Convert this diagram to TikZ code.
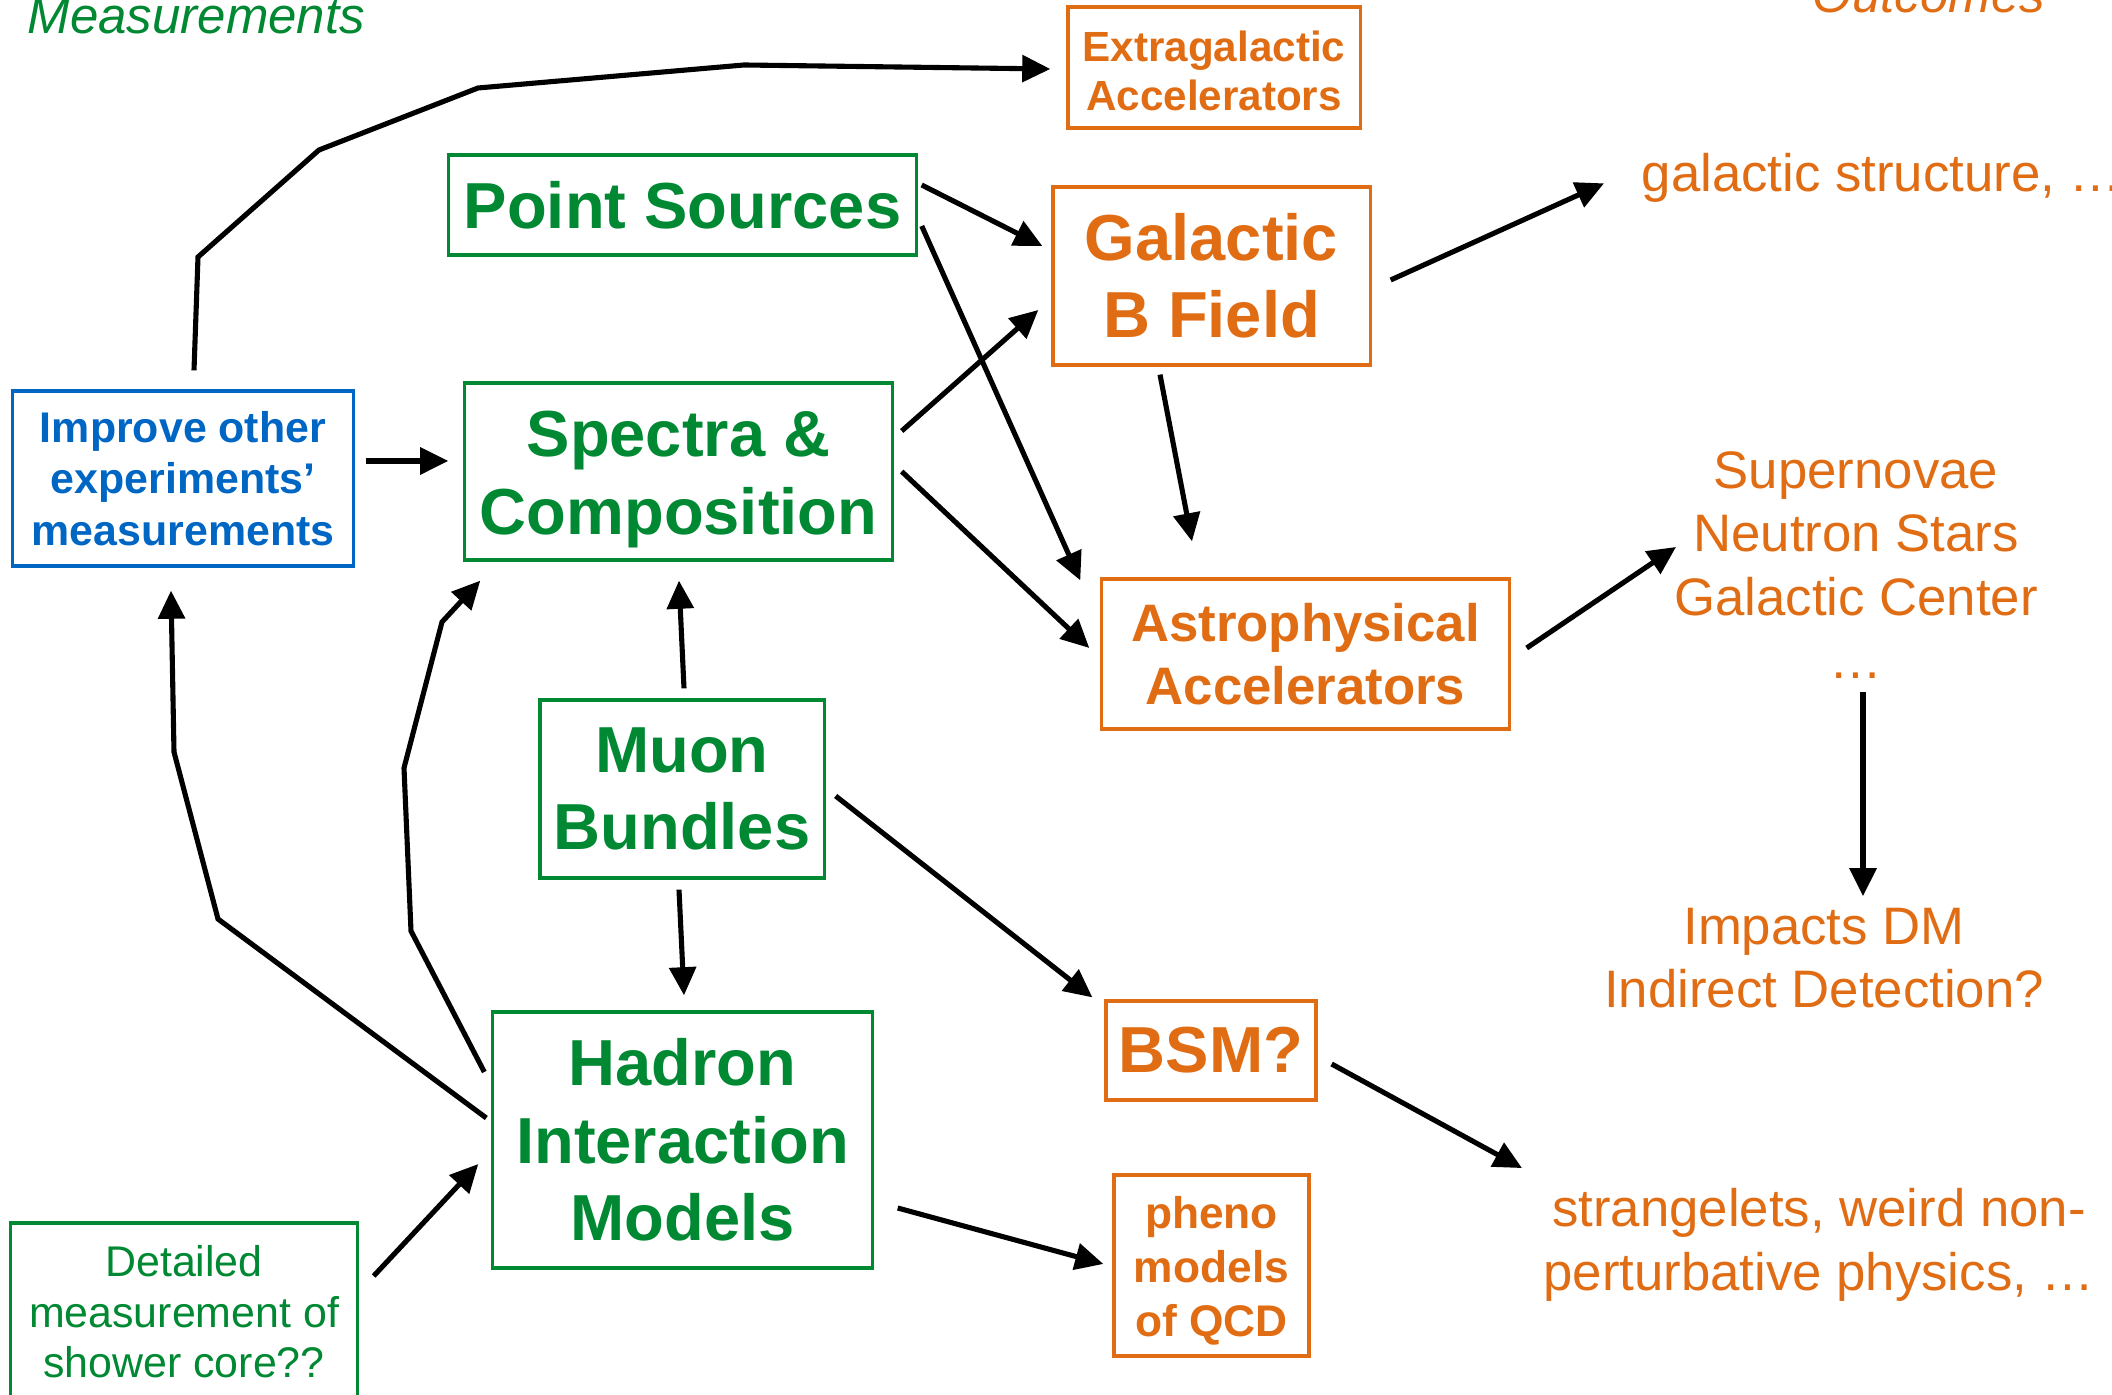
\documentclass[tikz,border=0pt]{standalone}
\usepackage{fontspec}
\setmainfont{Liberation Sans}
\usetikzlibrary{arrows.meta}
\definecolor{grn}{RGB}{0,136,50}
\definecolor{org}{RGB}{224,108,20}
\definecolor{blu}{RGB}{0,102,196}
\tikzset{
  box/.style={draw, line width=0.9pt, align=center, inner sep=0pt},
  big/.style={font=\bfseries\fontsize{18.5}{22}\selectfont},
  mid/.style={font=\bfseries\fontsize{15}{18}\selectfont},
  small/.style={font=\bfseries\fontsize{12.2}{14.7}\selectfont},
  outc/.style={text=org, align=center, inner sep=0pt, font=\fontsize{15}{18}\selectfont},
  head/.style={anchor=base west, inner sep=0pt, font=\itshape\fontsize{14.5}{17}\selectfont},
  arr/.style={-{Triangle[length=8pt,width=7.5pt]}, line width=1.45pt},
}
\begin{document}
\begin{tikzpicture}[x=0.01cm,y=-0.01cm]
\useasboundingbox (0,0) rectangle (2112,1395);
% column heads
\node[head, text=grn] (meas) at (27,34) {Measurements};
\node[head, text=org] (outc) at (1812,13) {Outcomes};
% measurements
\node[box, grn, big, minimum width=4.67cm, minimum height=1cm] (point) at (682.5,205) {Point Sources};
\node[box, grn, big, minimum width=4.27cm, minimum height=1.77cm] (spectra) at (678.5,471.5) {\rule{0pt}{17.5pt}Spectra \&\\Composition};
\node[box, grn, big, minimum width=2.84cm, minimum height=1.78cm] (muon) at (682,789) {Muon\\Bundles};
\node[box, grn, big, minimum width=3.79cm, minimum height=2.56cm] (hadron) at (682.5,1140) {Hadron\\Interaction\\Models};
\node[box, blu, small, minimum width=3.4cm, minimum height=1.75cm] (improve) at (183,478.5) {Improve other\\experiments'\\measurements};
\node[box, grn, font=\fontsize{12.2}{14.4}\selectfont, minimum width=3.46cm, minimum height=1.78cm] (detail) at (184,1312) {Detailed\\measurement of\\shower core??};
% astrophysics / particle physics
\node[box, org, font=\bfseries\fontsize{12}{13.8}\selectfont, minimum width=2.92cm, minimum height=1.21cm] (extra) at (1214,67.5) {\rule{0pt}{10.5pt}Extragalactic\\Accelerators};
\node[box, org, big, minimum width=3.17cm, minimum height=1.78cm] (gal) at (1211.5,276) {Galactic\\B Field};
\node[box, org, mid, minimum width=4.07cm, minimum height=1.5cm] (astro) at (1305.5,654) {Astrophysical\\Accelerators};
\node[box, org, big, minimum width=2.1cm, minimum height=0.99cm] (bsm) at (1211,1050.5) {BSM?};
\node[box, org, font=\bfseries\fontsize{12.6}{15.3}\selectfont, minimum width=1.95cm, minimum height=1.81cm] (pheno) at (1211.5,1265.5) {\rule{0pt}{12pt}pheno\\models\\of QCD};
% outcomes
\node[outc, anchor=base west] (galstr) at (1641,192) {galactic structure, …};
\node[outc] (snova) at (1856,565) {Supernovae\\Neutron Stars\\Galactic Center\\…};
\node[outc] (dmind) at (1824,958) {Impacts DM\\Indirect Detection?};
\node[outc] (strange) at (1819,1245) {strangelets, weird non-\\perturbative physics, …};
% arrows
\draw[arr] ([shift={(11,-19)}]improve.north) -- (198,257) -- (319,150) -- (478,88) -- (744,65) -- ([shift={(-16,1.5)}]extra.west);
\draw[arr] ([shift={(4,-20)}]point.east) -- ([shift={(-9,-30)}]gal.west);
\draw[arr] ([shift={(4,21)}]point.east) -- ([shift={(-20,3)}]astro.north west);
\draw[arr] ([shift={(8,-40.5)}]spectra.east) -- ([shift={(-13,34)}]gal.west);
\draw[arr] ([shift={(8,0)}]spectra.east) -- ([shift={(-11,-6)}]astro.west);
\draw[arr] ([shift={(-51.5,8)}]gal.south) -- ([shift={(-113.5,-36)}]astro.north);
\draw[arr] ([shift={(19,4)}]gal.east) -- ([shift={(-37,5)}]galstr.west);
\draw[arr] ([shift={(16,-6)}]astro.east) -- ([shift={(-180,-18)}]snova.center);
\draw[arr] ([shift={(7,13)}]snova.south) -- ([shift={(39,-11)}]dmind.north);
\draw[arr] ([shift={(11,-17.5)}]improve.east) -- ([shift={(-15,-10.5)}]spectra.west);
\draw[arr] ([shift={(2,-10)}]muon.north) -- ([shift={(0.5,19)}]spectra.south);
\draw[arr] ([shift={(-3,10)}]muon.south) -- ([shift={(1.5,-15)}]hadron.north);
\draw[arr] ([shift={(10,7)}]muon.east) -- ([shift={(-12,-2)}]bsm.north west);
\draw[arr] ([shift={(14,13.5)}]bsm.east) -- ([shift={(-297,-20)}]strange.north);
\draw[arr] ([shift={(24,68)}]hadron.east) -- ([shift={(-9,-1.5)}]pheno.west);
\draw[arr] ([shift={(-5,-22)}]hadron.west) -- (218,919) -- (174,752) -- ([shift={(-12,23)}]improve.south);
\draw[arr] ([shift={(-7,-68)}]hadron.west) -- (411,931) -- (404,768) -- (442,622) -- ([shift={(17,19)}]spectra.south west);
\draw[arr] ([shift={(15,-36)}]detail.east) -- ([shift={(-13,24)}]hadron.west);
\end{tikzpicture}
\end{document}
